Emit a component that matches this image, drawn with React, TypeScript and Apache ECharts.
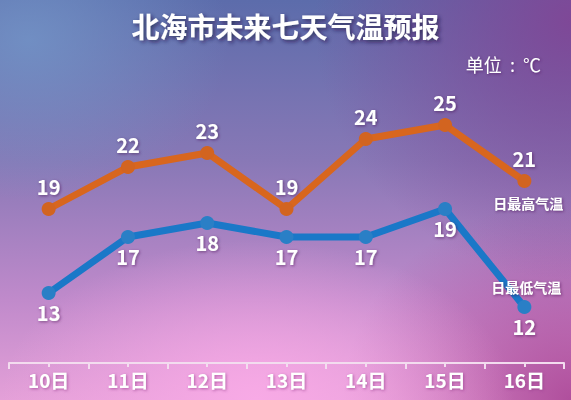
import { useRef, useEffect } from 'react';
import * as echarts from 'echarts';

const days = ['10日', '11日', '12日', '13日', '14日', '15日', '16日'];
const highTemps = [19, 22, 23, 19, 24, 25, 21];
const lowTemps = [13, 17, 18, 17, 17, 19, 12];
const halfSlots = ['', '', '', '', '', '', '', '', '', '', '', '', '', ''];
const highName = '日最高气温';
const lowName = '日最低气温';

const FONT = '"Noto Sans CJK SC", "Noto Sans", sans-serif';
const shadow = {
  textShadowColor: 'rgba(60, 20, 70, 0.55)',
  textShadowBlur: 3,
  textShadowOffsetX: 1,
  textShadowOffsetY: 1,
};

export default function App() {
  const chartRef = useRef<HTMLDivElement>(null);

  useEffect(() => {
    if (!chartRef.current) return;
    const chart = echarts.init(chartRef.current, null, { renderer: 'svg' });

    const valueLabel = (pos: 'top' | 'bottom', distance: number) => ({
      show: true,
      position: pos,
      distance,
      color: '#ffffff',
      fontSize: 20,
      fontWeight: 'bold',
      fontFamily: FONT,
      ...shadow,
    });

    const option = {
      animation: false,
      backgroundColor: 'transparent',
      title: {
        text: '北海市未来七天气温预报',
        left: 'center',
        top: 7,
        textStyle: {
          color: '#ffffff',
          fontSize: 28,
          fontWeight: 'bold',
          fontFamily: FONT,
          textShadowColor: 'rgba(30, 20, 60, 0.7)',
          textShadowBlur: 4,
          textShadowOffsetX: 2,
          textShadowOffsetY: 2,
        },
      },
      graphic: [
        {
          type: 'text',
          right: 30,
          top: 55,
          style: {
            text: '单位\u00a0\u00a0:\u00a0\u00a0℃',
            fill: '#ffffff',
            fontSize: 18,
            fontFamily: FONT,
            ...shadow,
          },
        },
      ],
      grid: { left: 9, right: 7, top: 83, bottom: 37 },
      xAxis: [
        {
          type: 'category',
          data: days,
          boundaryGap: true,
          axisLine: { lineStyle: { color: '#f3dcef', width: 2 } },
          axisTick: { show: true, length: 6, lineStyle: { color: '#f3dcef', width: 2 } },
          axisLabel: {
            color: '#ffffff',
            fontSize: 19,
            fontWeight: 'bold',
            fontFamily: FONT,
            margin: 7,
            textShadowColor: 'rgba(150, 60, 140, 0.7)',
            textShadowBlur: 3,
            textShadowOffsetX: 1,
            textShadowOffsetY: 1,
          },
        },
        {
          type: 'category',
          data: halfSlots,
          position: 'bottom',
          boundaryGap: true,
          axisLine: { show: false },
          axisTick: { show: true, length: 4, lineStyle: { color: '#f3dcef', width: 2 } },
          axisLabel: { show: false },
        },
      ],
      yAxis: { type: 'value', min: 8, max: 28, show: false, splitLine: { show: false } },
      series: [
        {
          name: highName,
          type: 'line',
          data: highTemps,
          symbol: 'circle',
          symbolSize: 14,
          lineStyle: { color: '#d8661e', width: 7 },
          itemStyle: { color: '#d26420' },
          label: valueLabel('top', 6),
          markPoint: {
            symbol: 'circle',
            symbolSize: 0,
            data: [
              {
                coord: [days.length - 1, highTemps[highTemps.length - 1]],
                label: {
                  show: true,
                  formatter: highName,
                  offset: [4, 22],
                  color: '#ffffff',
                  fontSize: 14,
                  fontWeight: 'bold',
                  fontFamily: FONT,
                  ...shadow,
                },
              },
            ],
          },
        },
        {
          name: lowName,
          type: 'line',
          data: lowTemps,
          symbol: 'circle',
          symbolSize: 14,
          lineStyle: { color: '#1a78c8', width: 7 },
          itemStyle: { color: '#2a7fc6' },
          label: valueLabel('bottom', 2),
          markPoint: {
            symbol: 'circle',
            symbolSize: 0,
            data: [
              {
                coord: [days.length - 1, lowTemps[lowTemps.length - 1]],
                label: {
                  show: true,
                  formatter: lowName,
                  offset: [2, -20],
                  color: '#ffffff',
                  fontSize: 14,
                  fontWeight: 'bold',
                  fontFamily: FONT,
                  ...shadow,
                },
              },
            ],
          },
        },
      ],
    };

    chart.setOption(option);

    const handleResize = () => chart.resize();
    window.addEventListener('resize', handleResize);
    return () => {
      window.removeEventListener('resize', handleResize);
      chart.dispose();
    };
  }, []);

  return (
    <div
      style={{
        position: 'absolute',
        left: 0,
        top: 0,
        width: 571,
        height: 400,
        background: [
          'radial-gradient(ellipse 45% 40% at 45% 100%, rgba(248,170,230,1) 0%, rgba(248,170,230,0) 100%)',
          'radial-gradient(ellipse 45% 65% at 100% 5%, rgba(128,70,150,0.95) 0%, rgba(128,70,150,0) 100%)',
          'radial-gradient(ellipse 40% 50% at 100% 100%, rgba(170,70,150,0.9) 0%, rgba(170,70,150,0) 100%)',
          'radial-gradient(ellipse 35% 40% at 5% 10%, rgba(115,150,200,0.8) 0%, rgba(115,150,200,0) 100%)',
          'linear-gradient(to bottom, #5c6cab 0%, #8878b6 40%, #c08acb 75%, #e4a0d8 100%)',
        ].join(', '),
      }}
    >
      <div ref={chartRef} style={{ width: 571, height: 400 }} />
    </div>
  );
}
